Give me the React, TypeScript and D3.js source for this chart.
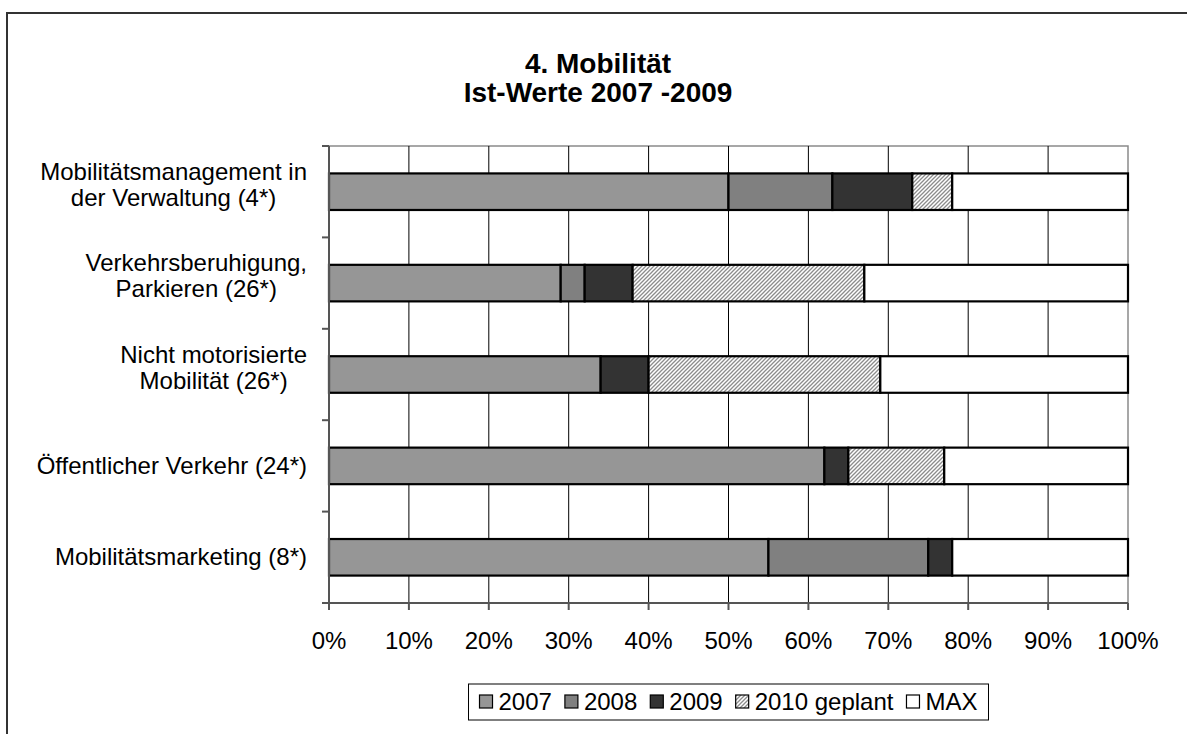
import React, { useEffect, useRef } from "react";
import * as d3 from "d3";

const categories: string[][] = [
  ["Mobilitätsmanagement in", "der Verwaltung (4*)"],
  ["Verkehrsberuhigung,", "Parkieren (26*)"],
  ["Nicht motorisierte", "Mobilität (26*)"],
  ["Öffentlicher Verkehr (24*)"],
  ["Mobilitätsmarketing (8*)"],
];
const seriesNames = ["2007", "2008", "2009", "2010 geplant", "MAX"];
const v2007 = [50, 29, 34, 62, 55];
const v2008 = [13, 3, 0, 0, 20];
const v2009 = [10, 6, 6, 3, 3];
const v2010 = [5, 29, 29, 12, 0];
const vMax = [22, 33, 31, 23, 22];
const xTicks = [0, 10, 20, 30, 40, 50, 60, 70, 80, 90, 100];
const titleLines = ["4. Mobilität", "Ist-Werte 2007 -2009"];

const W = 1187;
const H = 734;
const FONT = "'Liberation Sans', Arial, sans-serif";
const FS = 24;
const fills = ["#969696", "#808080", "#333333", "url(#hatch)", "#ffffff"];

export default function App() {
  const ref = useRef<SVGSVGElement>(null);
  useEffect(() => {
    const svg = d3.select(ref.current);
    svg.selectAll("*").remove();
    const defs = svg.append("defs");
    const pat = defs
      .append("pattern")
      .attr("id", "hatch")
      .attr("patternUnits", "userSpaceOnUse")
      .attr("width", 4)
      .attr("height", 4);
    pat.append("rect").attr("width", 4).attr("height", 4).attr("fill", "#ffffff");
    pat
      .append("path")
      .attr("d", "M-1,1 L1,-1 M0,4 L4,0 M3,5 L5,3")
      .attr("stroke", "#8c8c8c")
      .attr("stroke-width", 1.3);

    // outer frame
    svg
      .append("rect")
      .attr("x", 7)
      .attr("y", 13)
      .attr("width", W + 20)
      .attr("height", H + 20)
      .attr("fill", "#fff")
      .attr("stroke", "#333")
      .attr("stroke-width", 2);

    const left = 329, right = 1128, top = 146, bottom = 603;
    const x = d3.scaleLinear().domain([0, 100]).range([left, right]);
    const y = d3
      .scaleBand<number>()
      .domain(d3.range(categories.length))
      .range([top, bottom])
      .paddingInner(0.6)
      .paddingOuter(0.3);

    // plot border top/right
    svg
      .append("path")
      .attr("d", `M${left},${top}H${right}V${bottom}`)
      .attr("fill", "none")
      .attr("stroke", "#8a8a8a")
      .attr("stroke-width", 1.5);

    // gridlines
    svg
      .append("g")
      .selectAll("line")
      .data(xTicks.filter((t) => t > 0 && t < 100))
      .join("line")
      .attr("x1", (d) => x(d))
      .attr("x2", (d) => x(d))
      .attr("y1", top)
      .attr("y2", bottom)
      .attr("stroke", "#000")
      .attr("stroke-width", 1);

    const series = [v2007, v2008, v2009, v2010, vMax];
    const stackData = categories.map((_, i) => {
      const o: any = { i };
      seriesNames.forEach((n, k) => (o[n] = series[k][i]));
      return o;
    });
    const stacked = d3.stack<any>().keys(seriesNames)(stackData);
    stacked.forEach((layer, k) => {
      svg
        .append("g")
        .selectAll("rect")
        .data(layer.filter((d) => d[1] - d[0] > 0))
        .join("rect")
        .attr("x", (d) => x(d[0]))
        .attr("width", (d) => x(d[1]) - x(d[0]))
        .attr("y", (d) => y(d.data.i)!)
        .attr("height", y.bandwidth())
        .attr("fill", fills[k])
        .attr("stroke", "#000")
        .attr("stroke-width", 2.2);
    });

    // axes
    const ax = svg.append("g").attr("stroke", "#555").attr("stroke-width", 2);
    ax.append("line").attr("x1", left).attr("x2", left).attr("y1", top).attr("y2", bottom);
    ax.append("line").attr("x1", left - 7).attr("x2", right).attr("y1", bottom).attr("y2", bottom);
    const catStep = (bottom - top) / categories.length;
    ax.selectAll("line.ct")
      .data(d3.range(categories.length))
      .join("line")
      .attr("x1", left - 7)
      .attr("x2", left)
      .attr("y1", (i) => top + i * catStep)
      .attr("y2", (i) => top + i * catStep);
    ax.selectAll("line.xt")
      .data(xTicks)
      .join("line")
      .attr("x1", (d) => x(d))
      .attr("x2", (d) => x(d))
      .attr("y1", bottom)
      .attr("y2", bottom + 7);

    // x tick labels
    svg
      .append("g")
      .selectAll("text")
      .data(xTicks)
      .join("text")
      .attr("x", (d) => x(d))
      .attr("y", 649)
      .attr("text-anchor", "middle")
      .attr("font-family", FONT)
      .attr("font-size", FS)
      .text((d) => `${d}%`);

    // category labels
    const labelRight = 307;
    categories.forEach((lines, i) => {
      const cy = y(i)! + y.bandwidth() / 2;
      const g = svg.append("g");
      const texts = lines.map((l, j) =>
        g
          .append("text")
          .attr("font-family", FONT)
          .attr("font-size", FS)
          .attr("text-anchor", "middle")
          .attr("y", lines.length === 1 ? cy + 8 : cy - 12 + j * 26)
          .text(l)
      );
      const maxW = d3.max(texts, (t) => (t.node() as SVGTextElement).getComputedTextLength()) || 0;
      texts.forEach((t) => t.attr("x", labelRight - maxW / 2));
    });

    // title
    titleLines.forEach((t, j) => {
      svg
        .append("text")
        .attr("x", 598)
        .attr("y", 73 + j * 29)
        .attr("text-anchor", "middle")
        .attr("font-family", FONT)
        .attr("font-weight", "bold")
        .attr("font-size", 28)
        .text(t);
    });

    // legend
    const lg = svg.append("g");
    const sq = 13, gapST = 6, gapItem = 13, pad = 11;
    let cx = 0;
    const items: { x: number; tx: number }[] = [];
    const texts = seriesNames.map((n) =>
      lg
        .append("text")
        .attr("font-family", FONT)
        .attr("font-size", FS)
        .attr("y", 710)
        .text(n)
    );
    texts.forEach((t, k) => {
      const w = (t.node() as SVGTextElement).getComputedTextLength();
      items.push({ x: cx, tx: cx + sq + gapST });
      cx += sq + gapST + w + (k < texts.length - 1 ? gapItem : 0);
    });
    const totalW = cx + 2 * pad;
    const lx = (left + right) / 2 - totalW / 2;
    lg.insert("rect", ":first-child")
      .attr("x", lx)
      .attr("y", 684)
      .attr("width", totalW)
      .attr("height", 36)
      .attr("fill", "#fff")
      .attr("stroke", "#000")
      .attr("stroke-width", 1);
    texts.forEach((t, k) => {
      t.attr("x", lx + pad + items[k].tx);
      lg.append("rect")
        .attr("x", lx + pad + items[k].x)
        .attr("y", 695)
        .attr("width", sq)
        .attr("height", sq)
        .attr("fill", fills[k])
        .attr("stroke", "#000")
        .attr("stroke-width", 1.2);
    });
  }, []);
  return (
    <svg
      ref={ref}
      width={W}
      height={H}
      style={{ position: "absolute", left: 0, top: 0, background: "#fff" }}
    />
  );
}
